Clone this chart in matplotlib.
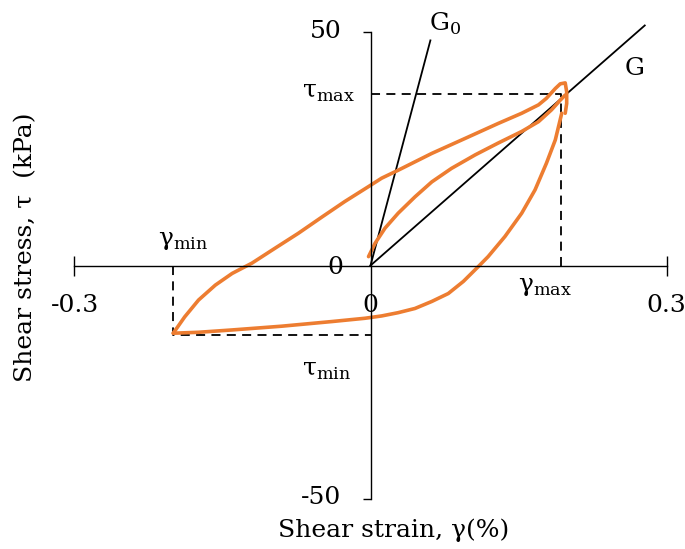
import matplotlib
matplotlib.use("Agg")
import matplotlib.pyplot as plt

plt.rcParams['font.family'] = ['DejaVu Serif']

# shear strain (%) / shear stress (kPa) of one hysteresis loop
backbone_strain = [-0.002, 0.0046, 0.0147, 0.028, 0.045, 0.062, 0.082, 0.106, 0.129,
                   0.153, 0.170, 0.183, 0.192, 0.197]
backbone_stress = [1.9, 4.75, 8.0, 11.2, 14.7, 17.9, 20.8, 23.7, 26.2,
                   28.7, 30.8, 33.3, 35.4, 36.5]

unload_strain = [0.1935, 0.187, 0.178, 0.1665, 0.153, 0.136, 0.119, 0.109, 0.094,
                 0.0787, 0.062, 0.045, 0.028, 0.0113, -0.0056, -0.039, -0.090, -0.140,
                 -0.174, -0.1996]
unload_stress = [32.6, 26.9, 21.9, 16.2, 11.2, 6.2, 1.9, -0.25, -3.4,
                 -6.0, -7.7, -9.2, -10.1, -10.8, -11.3, -12.0, -13.0, -13.8,
                 -14.3, -14.5]

reload_strain = [-0.1996, -0.188, -0.174, -0.157, -0.140, -0.120, -0.0966, -0.073, -0.049,
                 -0.026, -0.002, 0.0113, 0.028, 0.062, 0.0956, 0.129, 0.153, 0.170,
                 0.178, 0.187, 0.192, 0.197, 0.1985, 0.1985, 0.197]
reload_stress = [-14.5, -11.0, -7.4, -4.2, -1.7, 0.5, 3.7, 6.9, 10.4,
                 13.7, 16.9, 18.7, 20.4, 24.0, 27.2, 30.4, 32.6, 34.4,
                 35.8, 37.9, 38.9, 39.1, 37.2, 34.7, 32.6]

gamma_max, tau_max = 0.193, 36.7
gamma_min, tau_min = -0.2, -14.9

# end points of the secant (G) and initial tangent (G0) lines
G_end = (0.2775, 51.4)
G0_end = (0.0606, 48.2)

orange = '#ED7D31'

fig = plt.figure(figsize=(6.85, 5.49), dpi=100)
ax = fig.add_axes([74 / 685, 50 / 549, 593 / 685, 467 / 549])
ax.set_xlim(-0.3, 0.3)
ax.set_ylim(-50, 50)

for side in ['top', 'right']:
    ax.spines[side].set_visible(False)
for side in ['left', 'bottom']:
    ax.spines[side].set_position(('data', 0))
    ax.spines[side].set_linewidth(1.0)

ax.set_xticks([-0.3, 0.3])
ax.set_yticks([-50, 50])
ax.set_xticklabels([])
ax.set_yticklabels([])
ax.tick_params(axis='x', direction='inout', length=14, width=1.0)
ax.tick_params(axis='y', direction='out', length=6, width=1.0)

dash = (0, (5, 3.5))
ax.plot([0, gamma_max, gamma_max], [tau_max, tau_max, 0], color='black', lw=1.3, linestyle=dash)
ax.plot([gamma_min, gamma_min, 0], [0, tau_min, tau_min], color='black', lw=1.3, linestyle=dash)

ax.plot([0, G_end[0]], [0, G_end[1]], color='black', lw=1.3, clip_on=False)
ax.plot([0, G0_end[0]], [0, G0_end[1]], color='black', lw=1.3, clip_on=False)

for xs, ys in [(backbone_strain, backbone_stress),
               (unload_strain, unload_stress),
               (reload_strain, reload_stress)]:
    ax.plot(xs, ys, color=orange, lw=2.6, solid_capstyle='round', solid_joinstyle='round')

fs = 18
ax.text(-0.029, 50, '50', fontsize=fs, ha='right', va='center')
ax.text(-0.030, -49.6, '-50', fontsize=fs, ha='right', va='center')
ax.text(-0.036, -0.4, '0', fontsize=fs, ha='center', va='center')
ax.text(0, -8.6, '0', fontsize=fs, ha='center', va='center')
ax.text(-0.299, -8.6, '-0.3', fontsize=fs, ha='center', va='center')
ax.text(0.299, -8.6, '0.3', fontsize=fs, ha='center', va='center', clip_on=False)

ax.text(0.0754, 51.7, r'G$_\mathregular{0}$', fontsize=fs, ha='center', va='center')
ax.text(0.267, 42.1, 'G', fontsize=fs, ha='center', va='center')
ax.text(-0.0157, 37.0, r'τ$_\mathregular{max}$', fontsize=fs, ha='right', va='center')
ax.text(0.1766, -4.6, r'γ$_\mathregular{max}$', fontsize=fs, ha='center', va='center')
ax.text(-0.190, 5.4, r'γ$_\mathregular{min}$', fontsize=fs, ha='center', va='center')
ax.text(-0.044, -22.4, r'τ$_\mathregular{min}$', fontsize=fs, ha='center', va='center')

fig.text(394 / 685, 1 - 530 / 549, 'Shear strain, γ(%)', fontsize=fs, ha='center', va='center')
fig.text(26 / 685, 1 - 247 / 549, 'Shear stress, τ  (kPa)', fontsize=fs, ha='center', va='center',
         rotation=90)

fig.savefig('out.png', dpi=100)
